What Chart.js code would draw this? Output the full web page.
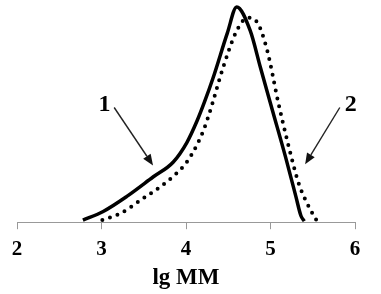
<!DOCTYPE html>
<html>
<head>
<meta charset="utf-8">
<script src="https://cdn.jsdelivr.net/npm/chart.js@4/dist/chart.umd.min.js"></script>
<style>
html,body{margin:0;padding:0;background:#fff;}
#wrap{width:381px;height:294px;position:relative;}
</style>
</head>
<body>
<div id="wrap"><canvas id="c" width="381" height="294"></canvas></div>
<script>
// x tick values
const xTicks = [2, 3, 4, 5, 6];
// Curve 1 (solid)
const x1 = [2.78, 3.02, 3.30, 3.61, 3.85, 4.01, 4.13, 4.22, 4.32, 4.49, 4.60, 4.76, 4.88, 5.03, 5.18, 5.30, 5.36, 5.40];
const y1 = [1, 5, 12, 21, 28, 37, 47, 56, 67, 88, 100, 89, 72, 51, 30, 12, 3, 0.5];
// Curve 2 (dotted)
const x2 = [3.01, 3.22, 3.49, 3.78, 4.01, 4.13, 4.21, 4.28, 4.44, 4.60, 4.73, 4.84, 4.96, 5.09, 5.21, 5.33, 5.43, 5.55];
const y2 = [1, 4, 11, 19, 28, 36, 43, 51, 72, 89, 95, 93, 80, 56, 36, 18.5, 9, 0.5];
// Annotation labels and arrows (data units)
const labelTexts = ['1', '2'];
const labelX = [3.035, 5.95];
const labelY = [54.5, 54.5];
const arrowFromX = [3.15, 5.82];
const arrowFromY = [53.3, 53.3];
const arrowToX = [3.61, 5.41];
const arrowToY = [26.4, 26.9];

const pts = (xs, ys) => xs.map((x, i) => ({x: x, y: ys[i]}));

const annotPlugin = {
  id: 'annot',
  afterDatasetsDraw(chart) {
    const ctx = chart.ctx;
    const xs = chart.scales.x, ys = chart.scales.y;
    ctx.save();
    for (let i = 0; i < labelTexts.length; i++) {
      ctx.font = 'bold 24px "Liberation Serif", "Times New Roman", serif';
      ctx.fillStyle = '#000';
      ctx.textAlign = 'center';
      ctx.textBaseline = 'middle';
      ctx.fillText(labelTexts[i], xs.getPixelForValue(labelX[i]), ys.getPixelForValue(labelY[i]));
      const fx = xs.getPixelForValue(arrowFromX[i]), fy = ys.getPixelForValue(arrowFromY[i]);
      const tx = xs.getPixelForValue(arrowToX[i]), ty = ys.getPixelForValue(arrowToY[i]);
      const ang = Math.atan2(ty - fy, tx - fx);
      const hl = 11, hw = 4.5;
      const bx = tx - hl * Math.cos(ang), by = ty - hl * Math.sin(ang);
      ctx.strokeStyle = '#222';
      ctx.lineWidth = 1.4;
      ctx.beginPath();
      ctx.moveTo(fx, fy);
      ctx.lineTo(bx, by);
      ctx.stroke();
      ctx.fillStyle = '#111';
      ctx.beginPath();
      ctx.moveTo(tx, ty);
      ctx.lineTo(bx + hw * Math.sin(ang), by - hw * Math.cos(ang));
      ctx.lineTo(bx - hw * Math.sin(ang), by + hw * Math.cos(ang));
      ctx.closePath();
      ctx.fill();
    }
    ctx.restore();
  }
};

new Chart(document.getElementById('c'), {
  type: 'line',
  data: {
    datasets: [
      {
        label: '1',
        data: pts(x1, y1),
        borderColor: '#000',
        borderWidth: 3.5,
        pointRadius: 0,
        tension: 0.4,
        cubicInterpolationMode: 'monotone',
        fill: false,
        clip: false
      },
      {
        label: '2',
        data: pts(x2, y2),
        borderColor: '#000',
        borderWidth: 4,
        borderDash: [0, 8],
        borderCapStyle: 'round',
        pointRadius: 0,
        tension: 0.4,
        cubicInterpolationMode: 'monotone',
        fill: false,
        clip: false
      }
    ]
  },
  options: {
    responsive: false,
    animation: false,
    layout: { padding: { left: 17, right: 26, top: 7, bottom: 2 } },
    plugins: { legend: { display: false }, tooltip: { enabled: false } },
    scales: {
      x: {
        type: 'linear',
        min: xTicks[0],
        max: xTicks[xTicks.length - 1],
        afterBuildTicks(scale) { scale.ticks = xTicks.map(v => ({value: v})); },
        grid: { display: true, drawOnChartArea: false, drawTicks: true, tickLength: 7, color: '#999', lineWidth: 1 },
        border: { display: true, color: '#999', width: 1 },
        ticks: {
          color: '#000',
          padding: 8,
          font: { family: '"Liberation Serif", "Times New Roman", serif', size: 21, weight: 'bold' }
        },
        title: {
          display: true,
          text: 'lg MM',
          color: '#000',
          padding: { top: -6, bottom: 0 },
          font: { family: '"Liberation Serif", "Times New Roman", serif', size: 23, weight: 'bold' }
        }
      },
      y: {
        display: false,
        min: 0,
        max: 100
      }
    }
  },
  plugins: [annotPlugin]
});
</script>
</body>
</html>
